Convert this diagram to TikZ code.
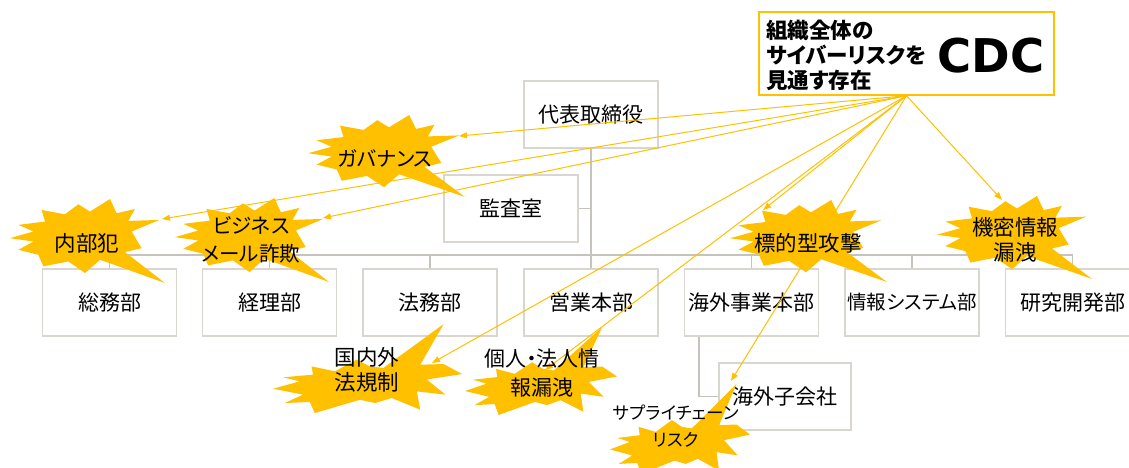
\documentclass[tikz,border=0pt]{standalone}
\usepackage{fontspec}
\newfontfamily\jp{Noto Sans CJK JP}[RawFeature=+palt]
\newfontfamily\cdcfont{DejaVu Sans}
\usetikzlibrary{arrows.meta}
\definecolor{burstY}{HTML}{FFC000}
\definecolor{boxline}{HTML}{D9D5D1}
\definecolor{orgline}{HTML}{C6C2BE}
\tikzset{
  orgbox/.style={draw=boxline, line width=1.3pt, fill=white, minimum width=134pt,
    minimum height=67pt, inner sep=0pt, font=\jp\fontsize{21}{24}\selectfont},
  orgconn/.style={draw=orgline, line width=1.8pt},
  risk/.style={-{Triangle[length=8pt,width=6pt]}, draw=burstY, line width=1pt},
  bursttext/.style={font=\jp\fontsize{21.5}{25}\selectfont, align=center, inner sep=0pt},
  burstA/.pic={\fill[burstY] (0.645,0) -- (0.688,0.17) -- (0.806,0.119) -- (0.763,0.261)
    -- (0.963,0.249) -- (0.785,0.387) -- (0.849,0.585) -- (0.742,0.632) -- (1,1)
    -- (0.581,0.723) -- (0.484,0.881) -- (0.376,0.743) -- (0.215,0.802) -- (0.183,0.664)
    -- (0.054,0.605) -- (0.151,0.506) -- (0,0.466) -- (0.151,0.387) -- (0.054,0.308)
    -- (0.226,0.269) -- (0.204,0.130) -- (0.355,0.182) -- (0.441,0.063) -- (0.516,0.150) -- cycle;},
  burstB/.pic={\fill[burstY] (0.903,0) -- (0.779,0.457) -- (0.903,0.45) -- (1,0.562)
    -- (0.814,0.624) -- (0.912,0.793) -- (0.761,0.757) -- (0.779,0.963) -- (0.628,0.831)
    -- (0.540,0.888) -- (0.460,0.851) -- (0.221,1) -- (0.195,0.876) -- (0.062,0.888)
    -- (0.159,0.794) -- (0,0.727) -- (0.142,0.644) -- (0.053,0.599) -- (0.212,0.569)
    -- (0.204,0.476) -- (0.327,0.532) -- (0.442,0.401) -- (0.513,0.476) -- (0.584,0.494) -- cycle;}
}
\begin{document}
\begin{tikzpicture}[x=1pt,y=-1pt]
\useasboundingbox (0,0) rectangle (1129,468);
\clip (0,0) rectangle (1129,468);
% org chart
\coordinate (busy) at (0,255);
\coordinate (ovsx) at (699,0);
\node[orgbox] (ceo) at (591,114.5) {代表取締役};
\node[orgbox] (audit) at (511,208.5) {監査室};
\node[orgbox] (b1) at (109.5,302.5) {総務部};
\node[orgbox] (b2) at (269.5,302.5) {経理部};
\node[orgbox] (b3) at (430,302.5) {法務部};
\node[orgbox] (b4) at (591,302.5) {営業本部};
\node[orgbox] (b5) at (751.5,302.5) {海外事業本部};
\node[orgbox, font=\jp\fontsize{19.5}{24}\selectfont] (b6) at (912,302.5) {情報システム部};
\node[orgbox] (b7) at (1072.5,302.5) {研究開発部};
\node[orgbox, minimum width=132pt] (sub) at (785,396.5) {海外子会社};
\draw[orgconn] (ceo.south) -- (ceo.south |- busy);
\draw[orgconn] (audit.east) -- (audit.east -| ceo.south);
\draw[orgconn] (b1.north |- busy) -- (b7.north |- busy);
\foreach \b in {b1,b2,b3,b4,b5,b6,b7} {\draw[orgconn] (\b.north) -- (\b.north |- busy);}
\draw[orgconn] (b5.south -| ovsx) -- (ovsx |- sub.west) -- (sub.west);
% CDC box
\node[draw=burstY, line width=1.5pt, fill=white, minimum width=295pt, minimum height=83pt] (cdc) at (906.5,53.5) {};
\node[anchor=west, align=left, inner sep=0pt, font=\jp\bfseries\fontsize{21.5}{25}\selectfont] (cdctext) at (766,55) {組織全体の\\サイバーリスクを\\見通す存在};
\node[inner sep=0pt, font=\cdcfont\bfseries\fontsize{46.5}{50}\selectfont] (cdclogo) at (991,56) {CDC};
% arrow tips
\coordinate (tip-gov) at (459,136);
\coordinate (tip-naibu) at (162,219);
\coordinate (tip-bec) at (323,218);
\coordinate (tip-law) at (432,363);
\coordinate (tip-pii) at (545,370);
\coordinate (tip-apt) at (763,210);
\coordinate (tip-sup) at (731,381);
\coordinate (tip-leak) at (1002,200);
\foreach \t in {gov,naibu,bec,law,pii,apt,sup,leak} {\draw[risk] (cdc.south) -- (tip-\t);}
% bursts
\pic[shift={(308,115)}, xscale=157, yscale=82] {burstA};
\pic[shift={(10,199)}, xscale=155, yscale=84] {burstA};
\pic[shift={(175,198)}, xscale=154, yscale=84] {burstA};
\pic[shift={(730,200)}, xscale=157, yscale=82] {burstA};
\pic[shift={(937,196)}, xscale=155, yscale=83] {burstA};
\pic[shift={(273,324)}, xscale=189, yscale=89] {burstB};
\pic[shift={(465,327)}, xscale=152, yscale=88] {burstB};
\pic[shift={(610,384)}, xscale=140, yscale=90] {burstB};
% burst texts
\node[bursttext, font=\jp\fontsize{20.5}{25}\selectfont] (r-gov) at (385,158) {ガバナンス};
\node[bursttext] (r-naibu) at (87,243) {内部犯};
\node[bursttext, font=\jp\fontsize{20.5}{28}\selectfont] (r-bec) at (251,240) {ビジネス\\メール詐欺};
\node[bursttext] (r-apt) at (808,243) {標的型攻撃};
\node[bursttext] (r-leak) at (1015,239.5) {機密情報\\漏洩};
\node[bursttext] (r-law) at (367,369.5) {国内外\\法規制};
\node[bursttext, font=\jp\fontsize{21}{29}\selectfont] (r-pii) at (542,373.5) {個人・法人情\\報漏洩};
\node[bursttext, font=\jp\fontsize{17.5}{27}\selectfont] (r-sup) at (676,426.5) {サプライチェーン\\リスク};
\end{tikzpicture}
\end{document}
